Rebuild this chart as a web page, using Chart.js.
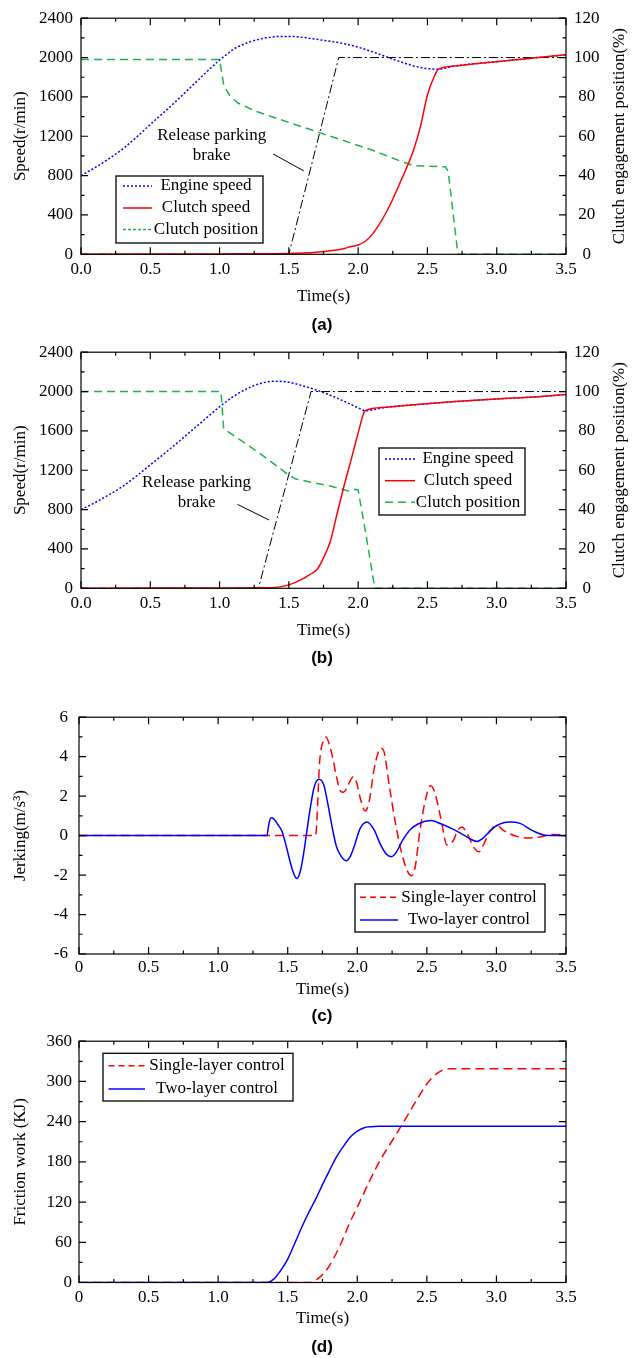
<!DOCTYPE html>
<html>
<head>
<meta charset="utf-8">
<script src="https://cdn.jsdelivr.net/npm/chart.js@4.4.0/dist/chart.umd.min.js"></script>
<style>
body { margin: 0; background: #fff; width: 644px; height: 1358px; position: relative; overflow: hidden; }
.panel { position: absolute; left: 0; width: 644px; height: 330px; }
.cap { position: absolute; left: 0; width: 644px; text-align: center; font: bold 17px "Liberation Sans", Arial, sans-serif; line-height: 20px; }
</style>
</head>
<body>
<div class="panel" style="top:0px"><canvas id="chartA" width="644" height="330"></canvas></div>
<div class="cap" style="top:315px">(a)</div>
<div class="panel" style="top:334px"><canvas id="chartB" width="644" height="330"></canvas></div>
<div class="cap" style="top:648px">(b)</div>
<div class="panel" style="top:696px"><canvas id="chartC" width="644" height="330"></canvas></div>
<div class="cap" style="top:1006px">(c)</div>
<div class="panel" style="top:1024px"><canvas id="chartD" width="644" height="330"></canvas></div>
<div class="cap" style="top:1337px">(d)</div>

<script>
// tick labels
const timeTicksAB = ['0.0', '0.5', '1.0', '1.5', '2.0', '2.5', '3.0', '3.5'];
const timeTicksCD = ['0', '0.5', '1.0', '1.5', '2.0', '2.5', '3.0', '3.5'];
const speedTicks = ['0', '400', '800', '1200', '1600', '2000', '2400'];
const posTicks = ['0', '20', '40', '60', '80', '100', '120'];
const jerkTicks = ['-6', '-4', '-2', '0', '2', '4', '6'];
const workTicks = ['0', '60', '120', '180', '240', '300', '360'];

// (a)
const timeEngineA = [0, 0.1, 0.2, 0.3, 0.4, 0.5, 0.6, 0.7, 0.8, 0.9, 1.0, 1.05, 1.1, 1.2, 1.3, 1.4, 1.5, 1.6, 1.7, 1.8, 1.9, 2.0, 2.1, 2.2, 2.3, 2.4, 2.5, 2.58, 2.7, 2.9, 3.1, 3.3, 3.5];
const engineA = [800, 880, 970, 1070, 1190, 1320, 1445, 1575, 1710, 1845, 1975, 2030, 2085, 2150, 2190, 2212, 2215, 2205, 2185, 2165, 2140, 2105, 2060, 2010, 1960, 1915, 1888, 1882, 1915, 1945, 1972, 2000, 2028];
const timeClutchA = [0, 0.5, 1.0, 1.5, 1.6, 1.7, 1.8, 1.9, 1.95, 2.0, 2.05, 2.1, 2.15, 2.2, 2.25, 2.3, 2.35, 2.4, 2.45, 2.5, 2.55, 2.58, 2.7, 2.9, 3.1, 3.3, 3.5];
const clutchA = [0, 2, 4, 8, 12, 20, 35, 60, 80, 95, 130, 200, 300, 420, 560, 720, 880, 1060, 1300, 1620, 1810, 1882, 1915, 1945, 1972, 2000, 2028];
const timePosA = [0, 1.0, 1.03, 1.07, 1.13, 1.25, 1.5, 1.8, 2.1, 2.3, 2.4, 2.63, 2.65, 2.72, 3.5];
const posA = [99, 99, 86, 81, 77, 73, 67, 60, 53, 47.5, 45, 44.5, 42, 0, 0];
const timeBrakeA = [0, 1.5, 1.86, 3.5];
const brakeA = [0, 0, 100, 100];

// (b)
const timeEngineB = [0, 0.1, 0.2, 0.3, 0.4, 0.5, 0.6, 0.7, 0.8, 0.9, 1.0, 1.1, 1.2, 1.3, 1.4, 1.5, 1.6, 1.7, 1.8, 1.9, 2.0, 2.05, 2.2, 2.4, 2.7, 3.0, 3.3, 3.5];
const engineB = [800, 870, 950, 1035, 1140, 1255, 1368, 1485, 1605, 1725, 1845, 1950, 2030, 2085, 2105, 2095, 2058, 2015, 1962, 1900, 1835, 1805, 1840, 1865, 1898, 1925, 1948, 1970];
const timeClutchB = [0, 0.5, 1.0, 1.35, 1.42, 1.5, 1.6, 1.65, 1.7, 1.75, 1.8, 1.85, 1.9, 1.95, 2.0, 2.04, 2.05, 2.2, 2.4, 2.7, 3.0, 3.3, 3.5];
const clutchB = [0, 2, 3, 5, 12, 35, 95, 140, 185, 310, 480, 770, 1050, 1310, 1580, 1780, 1805, 1840, 1865, 1898, 1925, 1948, 1970];
const timePosB = [0, 1.01, 1.03, 1.19, 1.34, 1.49, 1.55, 1.8, 1.93, 1.98, 2.0, 2.05, 2.12, 3.5];
const posB = [100, 100, 81, 73.5, 66, 58, 55.5, 52, 49.5, 50.3, 50, 30, 0, 0];
const timeBrakeB = [0, 1.28, 1.66, 3.5];
const brakeB = [0, 0, 100, 100];

// (c)
const timeJerk1 = [0, 1.70, 1.73, 1.755, 1.775, 1.80, 1.825, 1.85, 1.88, 1.90, 1.925, 1.95, 1.972, 1.995, 2.025, 2.055, 2.085, 2.12, 2.15, 2.17, 2.19, 2.23, 2.276, 2.32, 2.36, 2.39, 2.415, 2.45, 2.497, 2.527, 2.556, 2.6, 2.645, 2.69, 2.72, 2.752, 2.79, 2.836, 2.875, 2.91, 2.954, 3.0, 3.056, 3.145, 3.23, 3.32, 3.4, 3.46, 3.5];
const jerk1 = [0, 0, 3.8, 4.8, 5.0, 4.6, 3.9, 3.0, 2.25, 2.2, 2.4, 2.8, 2.98, 2.69, 1.8, 1.25, 1.7, 3.34, 4.2, 4.43, 4.3, 2.52, 0.56, -0.91, -1.8, -2.03, -1.64, 0.24, 2.03, 2.52, 2.2, 0.89, -0.48, -0.25, 0.24, 0.43, 0.1, -0.58, -0.82, -0.42, 0.24, 0.5, 0.24, -0.04, -0.12, -0.06, 0.06, 0.04, 0];
const timeJerk2 = [0, 1.35, 1.365, 1.38, 1.40, 1.43, 1.46, 1.49, 1.52, 1.545, 1.565, 1.585, 1.61, 1.635, 1.66, 1.69, 1.725, 1.76, 1.79, 1.82, 1.85, 1.88, 1.92, 1.95, 1.98, 2.02, 2.07, 2.12, 2.17, 2.21, 2.245, 2.28, 2.32, 2.38, 2.44, 2.53, 2.6, 2.68, 2.76, 2.82, 2.86, 2.9, 2.95, 3.0, 3.09, 3.17, 3.26, 3.35, 3.5];
const jerk2 = [0, 0, 0.6, 0.9, 0.85, 0.55, 0.2, -0.55, -1.4, -1.95, -2.18, -1.95, -1.1, 0.1, 1.3, 2.45, 2.85, 2.55, 1.55, 0.4, -0.55, -1.0, -1.27, -1.05, -0.5, 0.35, 0.69, 0.3, -0.5, -0.95, -1.07, -0.85, -0.3, 0.3, 0.6, 0.76, 0.6, 0.35, 0.05, -0.2, -0.3, -0.15, 0.2, 0.5, 0.69, 0.62, 0.25, 0.02, 0];

// (d)
const timeWork1 = [0, 1.657, 1.731, 1.79, 1.878, 1.937, 2.017, 2.085, 2.158, 2.246, 2.335, 2.42, 2.506, 2.556, 2.615, 2.674, 3.5];
const work1 = [0, 0, 8, 22, 56, 85, 120, 150, 180, 210, 240, 270, 298, 309, 317, 319, 319];
const timeWork2 = [0, 1.353, 1.40, 1.45, 1.5, 1.554, 1.6, 1.65, 1.70, 1.75, 1.8, 1.85, 1.9, 1.95, 2.0, 2.05, 2.1, 2.15, 3.5];
const work2 = [0, 0, 5, 18, 35, 60, 82, 104, 124, 146, 167, 187, 203, 217, 226, 231, 232.5, 233, 233];

const FONT = '17px "Liberation Serif", "Times New Roman", serif';
Chart.defaults.font.family = '"Liberation Serif", "Times New Roman", serif';
Chart.defaults.font.size = 17;
Chart.defaults.color = '#000';

function pts(ts, vs) {
    return ts.map((t, i) => ({ x: t, y: vs[i] }));
}

function tickFrom(labels, min, step) {
    return v => labels[Math.round((v - min) / step)];
}

// box around plot area plus inward tick marks on all four sides
const frameTicks = {
    id: 'frameTicks',
    afterDatasetsDraw(chart, args, o) {
        if (!o.x) return;
        const { ctx, chartArea: a, scales } = chart;
        ctx.save();
        ctx.strokeStyle = '#000';
        ctx.lineWidth = 1.2;
        ctx.setLineDash([]);
        ctx.strokeRect(a.left, a.top, a.right - a.left, a.bottom - a.top);
        ctx.beginPath();
        const marks = (scale, major, minor, draw) => {
            for (let v = scale.min; v <= scale.max + 1e-9; v += minor) {
                const isMajor = Math.abs(v / major - Math.round(v / major)) < 1e-6;
                draw(scale.getPixelForValue(v), isMajor ? 7 : 3.5);
            }
        };
        marks(scales.x, o.x[0], o.x[1], (p, len) => {
            ctx.moveTo(p, a.bottom); ctx.lineTo(p, a.bottom - len);
            ctx.moveTo(p, a.top); ctx.lineTo(p, a.top + len);
        });
        marks(scales.y, o.y[0], o.y[1], (p, len) => {
            ctx.moveTo(a.left, p); ctx.lineTo(a.left + len, p);
            if (!scales.y1) { ctx.moveTo(a.right, p); ctx.lineTo(a.right - len, p); }
        });
        if (scales.y1) {
            marks(scales.y1, o.y1[0], o.y1[1], (p, len) => {
                ctx.moveTo(a.right, p); ctx.lineTo(a.right - len, p);
            });
        }
        ctx.stroke();
        ctx.restore();
    }
};

// framed legend placed inside the plot
const boxLegend = {
    id: 'boxLegend',
    afterDraw(chart, args, o) {
        if (!o.items) return;
        const ctx = chart.ctx;
        ctx.save();
        ctx.fillStyle = '#fff';
        ctx.fillRect(o.box[0], o.box[1], o.box[2], o.box[3]);
        ctx.strokeStyle = '#000';
        ctx.lineWidth = 1.3;
        ctx.setLineDash([]);
        ctx.strokeRect(o.box[0], o.box[1], o.box[2], o.box[3]);
        ctx.font = FONT;
        ctx.textAlign = 'center';
        ctx.textBaseline = 'middle';
        o.items.forEach((it, i) => {
            const ds = chart.data.datasets[it.ds];
            const y = o.rowY[i];
            ctx.strokeStyle = ds.borderColor;
            ctx.lineWidth = ds.borderWidth;
            ctx.setLineDash(it.dash || ds.borderDash || []);
            ctx.beginPath();
            ctx.moveTo(o.line[0], y);
            ctx.lineTo(o.line[1], y);
            ctx.stroke();
            ctx.fillStyle = '#000';
            ctx.fillText(ds.label, o.textX, y);
        });
        ctx.restore();
    }
};

// "Release parking brake" note with its leader line, in data units
const notes = {
    id: 'notes',
    afterDatasetsDraw(chart, args, o) {
        if (!o.lines) return;
        const { ctx, scales } = chart;
        const x = scales.x, y = scales.y;
        ctx.save();
        ctx.font = FONT;
        ctx.fillStyle = '#000';
        ctx.textAlign = 'center';
        ctx.textBaseline = 'middle';
        o.lines.forEach(l => ctx.fillText(l.text, x.getPixelForValue(l.at[0]), y.getPixelForValue(l.at[1])));
        ctx.strokeStyle = '#000';
        ctx.lineWidth = 1;
        ctx.setLineDash([]);
        ctx.beginPath();
        ctx.moveTo(x.getPixelForValue(o.leader[0]), y.getPixelForValue(o.leader[1]));
        ctx.lineTo(x.getPixelForValue(o.leader[2]), y.getPixelForValue(o.leader[3]));
        ctx.stroke();
        ctx.restore();
    }
};

// right axis title, read bottom to top
const sideTitle = {
    id: 'sideTitle',
    afterDraw(chart, args, o) {
        if (!o.text) return;
        const { ctx, chartArea: a } = chart;
        ctx.save();
        ctx.translate(o.x, (a.top + a.bottom) / 2);
        ctx.rotate(-Math.PI / 2);
        ctx.font = FONT;
        ctx.fillStyle = '#000';
        ctx.textAlign = 'center';
        ctx.textBaseline = 'middle';
        ctx.fillText(o.text, 0, 0);
        ctx.restore();
    }
};

Chart.register(frameTicks, boxLegend, notes, sideTitle);

function xScale(labels, labelPad, titlePad, axisH) {
    return {
        type: 'linear', min: 0, max: 3.5,
        grid: { display: false, drawTicks: false }, border: { display: false },
        ticks: { stepSize: 0.5, padding: labelPad, maxRotation: 0, autoSkip: false, callback: tickFrom(labels, 0, 0.5) },
        title: { display: true, text: 'Time(s)', padding: { top: 0, bottom: titlePad } },
        afterFit: s => { s.height = axisH; }
    };
}

function yScale(labels, min, max, step, text, labelPad, width) {
    return {
        type: 'linear', position: 'left', min: min, max: max,
        grid: { display: false, drawTicks: false }, border: { display: false },
        ticks: { stepSize: step, padding: labelPad, autoSkip: false, callback: tickFrom(labels, min, step) },
        title: { display: true, text: text, padding: { top: 10.8, bottom: 0 } },
        afterFit: s => { s.width = width; }
    };
}

function posScale() {
    return {
        type: 'linear', position: 'right', min: 0, max: 120,
        grid: { display: false, drawTicks: false }, border: { display: false },
        ticks: { stepSize: 20, padding: 8, crossAlign: 'center', autoSkip: false, callback: tickFrom(posTicks, 0, 20) },
        afterFit: s => { s.width = 78; }
    };
}

function baseOptions(top, right) {
    return {
        responsive: false, animation: false, devicePixelRatio: 1, events: [],
        layout: { padding: { top: top, right: right, left: 0, bottom: 0 } },
        elements: { point: { radius: 0 }, line: { fill: false } },
        plugins: { legend: { display: false }, tooltip: { enabled: false } }
    };
}

function speedChart(id, top, xLabelPad, xTitlePad, xAxisH, d, legend, note) {
    const options = baseOptions(top, 0);
    options.scales = {
        x: xScale(timeTicksAB, xLabelPad, xTitlePad, xAxisH),
        y: yScale(speedTicks, 0, 2400, 400, 'Speed(r/min)', 8, 81),
        y1: posScale()
    };
    options.plugins.frameTicks = { x: [0.5, 0.25], y: [400, 200], y1: [20, 10] };
    options.plugins.boxLegend = legend;
    options.plugins.notes = note;
    options.plugins.sideTitle = { text: 'Clutch engagement position(%)', x: 620 };
    return new Chart(document.getElementById(id), {
        type: 'line',
        data: {
            datasets: [
                { label: 'Engine speed', data: d.engine, borderColor: '#0000ff', borderWidth: 1.5, borderDash: [2, 2], cubicInterpolationMode: 'monotone', yAxisID: 'y', order: 3 },
                { label: 'Clutch speed', data: d.clutch, borderColor: '#ff0000', borderWidth: 1.5, cubicInterpolationMode: 'monotone', yAxisID: 'y', order: 0 },
                { label: 'Clutch position', data: d.pos, borderColor: '#22b14c', borderWidth: 1.5, borderDash: [8, 5], yAxisID: 'y1', order: 2 },
                { label: 'Parking brake', data: d.brake, borderColor: '#000000', borderWidth: 1, borderDash: [9, 3, 2, 3], yAxisID: 'y1', order: 1 }
            ]
        },
        options: options
    });
}

function controlChart(id, top, xLabelPad, xTitlePad, xAxisH, yCfg, single, two, legend) {
    const options = baseOptions(top, 78);
    options.scales = {
        x: xScale(timeTicksCD, xLabelPad, xTitlePad, xAxisH),
        y: yScale(yCfg.labels, yCfg.min, yCfg.max, yCfg.step, yCfg.title, yCfg.pad, 79)
    };
    options.plugins.frameTicks = { x: [0.5, 0.25], y: [yCfg.step, yCfg.step / 2] };
    options.plugins.boxLegend = legend;
    return new Chart(document.getElementById(id), {
        type: 'line',
        data: {
            datasets: [
                { label: 'Single-layer control', data: single, borderColor: '#ff0000', borderWidth: 1.5, borderDash: [9, 5], cubicInterpolationMode: 'monotone', order: 1 },
                { label: 'Two-layer control', data: two, borderColor: '#0000ff', borderWidth: 1.5, cubicInterpolationMode: 'monotone', order: 0 }
            ]
        },
        options: options
    });
}

speedChart('chartA', 13.3, 4.8, 22.8, 75.7,
    { engine: pts(timeEngineA, engineA), clutch: pts(timeClutchA, clutchA), pos: pts(timePosA, posA), brake: pts(timeBrakeA, brakeA) },
    { box: [116, 176, 147, 67], rowY: [186, 208, 229.5], line: [123, 152], textX: 206,
      items: [{ ds: 0 }, { ds: 1 }, { ds: 2, dash: [3, 2] }] },
    { lines: [{ text: 'Release parking', at: [0.943, 1205] }, { text: 'brake', at: [0.943, 1006] }], leader: [1.386, 1020, 1.608, 848] });

speedChart('chartB', 12.7, 4.8, 23.1, 75.7,
    { engine: pts(timeEngineB, engineB), clutch: pts(timeClutchB, clutchB), pos: pts(timePosB, posB), brake: pts(timeBrakeB, brakeB) },
    { box: [379, 114, 146, 67], rowY: [125, 146.7, 168.3], line: [385, 415], textX: 468,
      items: [{ ds: 0 }, { ds: 1 }, { ds: 2 }] },
    { lines: [{ text: 'Release parking', at: [0.834, 1075] }, { text: 'brake', at: [0.834, 876] }], leader: [1.129, 853, 1.357, 694] });

controlChart('chartC', 13, 3.1, 25.8, 72,
    { labels: jerkTicks, min: -6, max: 6, step: 2, title: 'Jerking(m/s³)', pad: 11 },
    pts(timeJerk1, jerk1), pts(timeJerk2, jerk2),
    { box: [355, 188, 190, 48], rowY: [201.3, 224], line: [360, 398], textX: 469,
      items: [{ ds: 0, dash: [6, 4] }, { ds: 1 }] });

controlChart('chartD', 13, 4.6, 24.8, 71.5,
    { labels: workTicks, min: 0, max: 360, step: 60, title: 'Friction work (KJ)', pad: 7 },
    pts(timeWork1, work1), pts(timeWork2, work2),
    { box: [103, 29.3, 190, 47.7], rowY: [41.7, 65], line: [108.5, 145], textX: 217,
      items: [{ ds: 0, dash: [6, 4] }, { ds: 1 }] });
</script>
</body>
</html>
